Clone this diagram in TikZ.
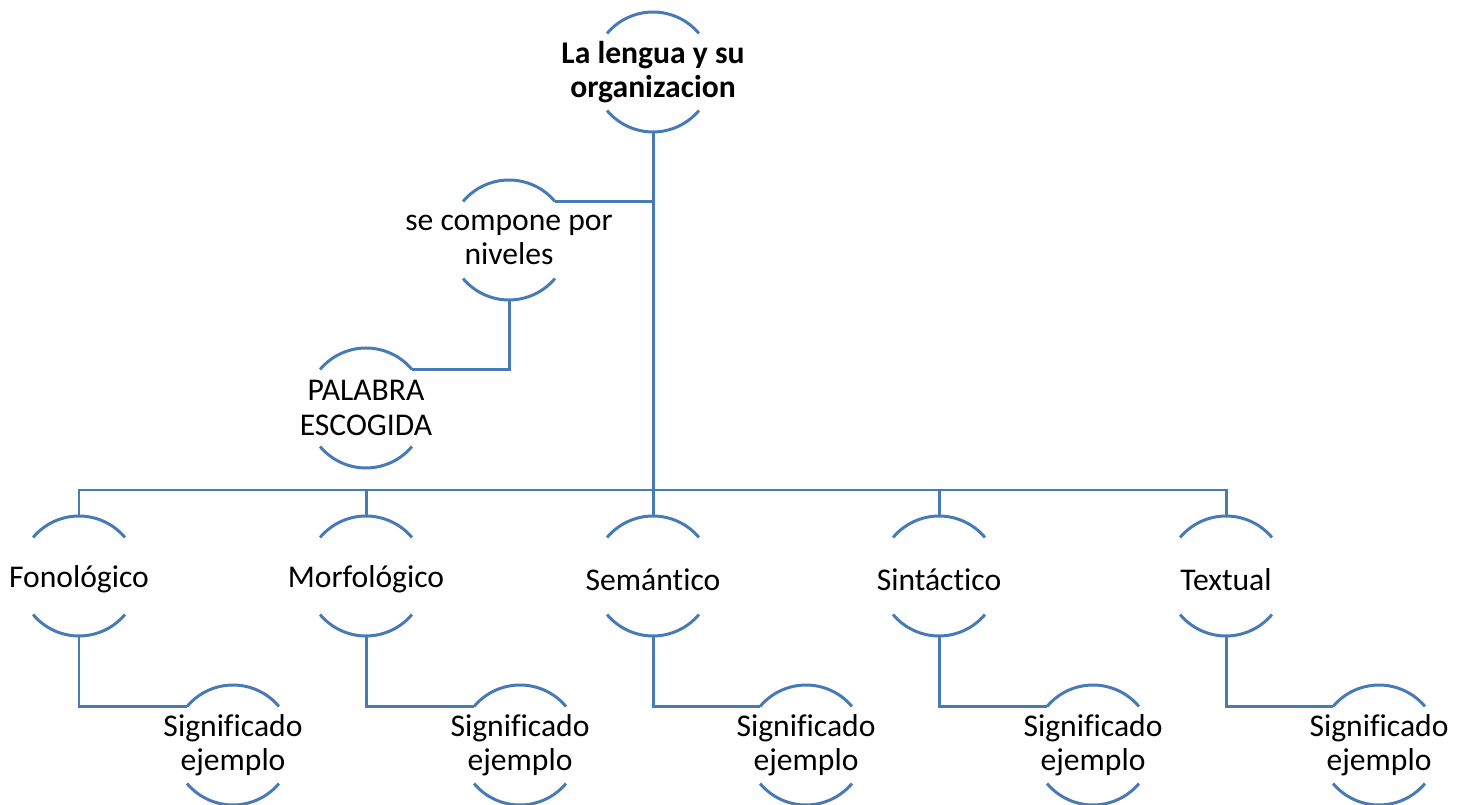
\documentclass[tikz,border=0pt]{standalone}
\usepackage{fontspec}
\setmainfont{Carlito}[Ligatures={NoCommon}]
\definecolor{ln}{RGB}{72,122,182}
\begin{document}
\begin{tikzpicture}[x=0.02cm,y=0.02cm,
  ring/.style={circle,minimum size=2.4cm,inner sep=0pt,outer sep=0pt,draw=none},
  lbl/.style={inner sep=0pt,align=center,font=\fontsize{18}{19.5}\selectfont,text=black},
  conn/.style={draw=ln,line width=1.7pt},
]
\useasboundingbox (0,0) rectangle (1469,804);
% nodes
\node[ring,label={[lbl,font=\fontsize{18}{19.5}\selectfont\bfseries]center:La lengua y su\\organizacion}] (top) at (653,732) {};
\node[ring,label={[lbl]center:se compone por\\niveles}] (comp) at (509,564) {};
\node[ring,label={[lbl]center:PALABRA\\ESCOGIDA}] (pal) at (366,396) {};
\node[ring,label={[lbl,yshift=-2]center:Fonológico}] (f) at (79,228) {};
\node[ring,label={[lbl,yshift=-2]center:Morfológico}] (m) at (366,228) {};
\node[ring,label={[lbl,yshift=-2]center:Semántico}] (s) at (653,228) {};
\node[ring,label={[lbl,yshift=-2]center:Sintáctico}] (si) at (939,228) {};
\node[ring,label={[lbl,yshift=-2]center:Textual}] (t) at (1226,228) {};
\node[ring,label={[lbl]center:Significado\\ejemplo}] (g1) at (233,59) {};
\node[ring,label={[lbl]center:Significado\\ejemplo}] (g2) at (520,59) {};
\node[ring,label={[lbl]center:Significado\\ejemplo}] (g3) at (806,59) {};
\node[ring,label={[lbl]center:Significado\\ejemplo}] (g4) at (1093,59) {};
\node[ring,label={[lbl]center:Significado\\ejemplo}] (g5) at (1379,59) {};
% arcs
\foreach \n in {top,comp,pal,f,m,s,si,t,g1,g2,g3,g4,g5}{
  \draw[conn] (\n.40) arc[start angle=40,end angle=140,radius=1.2cm];
  \draw[conn] (\n.220) arc[start angle=220,end angle=320,radius=1.2cm];
}
% connectors
\coordinate (bus) at (653,314);
\draw[conn] (top.south) -- (s.north);
\draw[conn] (comp.40) -- (comp.40 -| top.south);
\draw[conn] (comp.south) |- (pal.40);
\draw[conn] (f.north) -- (f.north |- bus) -- (t.north |- bus) -- (t.north);
\draw[conn] (m.north) -- (m.north |- bus);
\draw[conn] (si.north) -- (si.north |- bus);
\draw[conn] (f.south) |- (g1.140);
\draw[conn] (m.south) |- (g2.140);
\draw[conn] (s.south) |- (g3.140);
\draw[conn] (si.south) |- (g4.140);
\draw[conn] (t.south) |- (g5.140);
\end{tikzpicture}
\end{document}
